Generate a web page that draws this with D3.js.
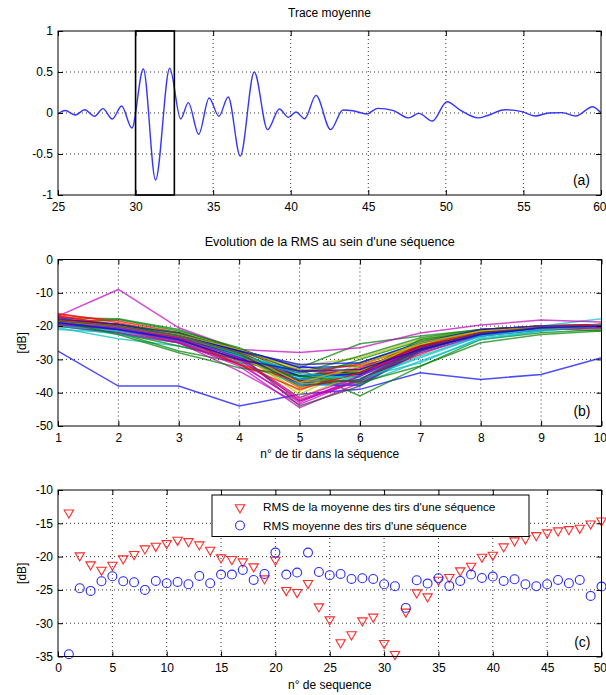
<!DOCTYPE html>
<html><head><meta charset="utf-8">
<script src="https://cdn.jsdelivr.net/npm/d3@7"></script>
<style>
body{margin:0;background:#fff;}
svg{display:block;font-family:"Liberation Sans",Arial,sans-serif;}
</style></head>
<body><div id="chart"></div>
<script>
// ---------- DATA ----------
// (a) mean trace: sample times (extrema) and amplitudes
const traceT = [25,25.47,26.12,26.72,27.35,27.9,28.5,29.1,29.76,30.5,31.29,32.2,32.91,33.4,34.07,34.74,35.37,35.97,36.75,37.65,38.51,39.27,39.85,40.34,40.9,41.63,42.57,43.37,44.0,44.9,45.6,46.63,47.6,48.26,49.13,50.07,50.98,52.07,52.7,53.8,54.9,55.76,56.63,57.5,58.37,59.46,60];
const traceV = [-0.01,0.03,-0.025,0.04,-0.04,0.053,-0.073,0.085,-0.183,0.537,-0.817,0.545,-0.073,0.126,-0.26,0.183,-0.04,0.195,-0.524,0.5,-0.203,0.049,-0.053,0.012,-0.07,0.215,-0.203,0.037,0.028,-0.012,0.057,0.028,-0.06,-0.004,-0.098,0.138,0.028,-0.06,-0.03,0.04,0.016,-0.037,0.0,0.004,-0.037,0.077,0.0];
const windowStart = 30, windowEnd = 32.5;
const traceXTicks = [25,30,35,40,45,50,55,60];
const traceYTicks = [-1,-0.5,0,0.5,1];

// (b) RMS per shot within each sequence (50 sequences x 10 shots)
const shots = [1,2,3,4,5,6,7,8,9,10];
const rmsSeq = [
 [-27.5,-38,-38,-44,-40.5,-39,-34,-36,-34.5,-29.5],
 [-17.5,-17.8,-21,-27,-32.5,-25.3,-23,-21,-20,-20.5],
 [-16.2,-19,-22.5,-28.5,-38.5,-34,-27,-22,-20.5,-20],
 [-20.5,-23.8,-26,-30,-35,-33,-25.5,-21.5,-20,-17.8],
 [-17,-9,-20.5,-27,-27.9,-26.5,-22.1,-19.7,-18.2,-18.8],
 [-19,-20.5,-23.5,-28,-40.5,-32,-25,-21.5,-20.5,-20],
 [-18.5,-20,-23,-29,-37,-37.5,-26,-22,-20.5,-20],
 [-18,-20.5,-22.5,-27.5,-32,-34.5,-25,-21.5,-20.5,-19.5],
 [-19.5,-22,-27.5,-31,-33,-41,-32.1,-24,-22,-21],
 [-18.5,-19.5,-23,-29,-42.5,-36,-28.5,-22,-20.5,-20],
 [-20,-22.5,-25,-29.5,-33,-35.5,-31,-23.5,-21.5,-20],
 [-19,-21.5,-25,-33.5,-43.5,-36,-27,-22.5,-21,-20.5],
 [-19,-20,-22,-27,-31.9,-29.5,-24,-21,-20,-20.5],
 [-19.5,-21,-24,-29,-37,-36.5,-27.5,-22,-20.5,-20],
 [-18,-19.5,-22.5,-27,-32.5,-32,-27.5,-22,-20.5,-20],
 [-20,-22,-26,-30,-36,-30,-24.5,-21.5,-20.5,-21.5],
 [-16.5,-18.5,-22,-27.5,-33.5,-34,-26,-21,-20,-19.5],
 [-19.5,-21.5,-24,-28.5,-35.5,-35,-27,-23,-21,-20],
 [-18.5,-20,-24,-31,-43,-35,-27.5,-22.5,-20.5,-20],
 [-19,-20,-23,-28,-38.5,-33,-25.5,-22,-20.5,-20.5],
 [-18.5,-19.5,-22.5,-27.5,-36.5,-35,-26.5,-22,-20.5,-20],
 [-17.5,-20,-22,-28,-37.5,-37.8,-27,-22.5,-20.5,-20],
 [-19,-18,-21.5,-26.5,-34,-29,-23.5,-21,-20,-19.5],
 [-17,-19.5,-23.5,-30.5,-35,-33,-27,-21.5,-20,-19.5],
 [-21,-22,-25,-31,-37.5,-37.5,-30.5,-24,-21.5,-20],
 [-19,-21,-24.5,-30,-42,-36,-27,-23,-21,-20.5],
 [-18.5,-20.5,-23.5,-29,-41.5,-34,-26,-22.5,-21,-20],
 [-19,-20,-23,-28,-35,-33.5,-26,-22,-20.5,-20],
 [-18.5,-20,-23,-29.5,-36,-34,-26,-22.5,-20.5,-20],
 [-18,-19.5,-22,-27,-35,-34,-24,-21.5,-20.5,-20],
 [-18,-21,-25,-31.5,-36.5,-32.5,-26.5,-22,-20.5,-19.5],
 [-19,-21,-24.5,-30,-36,-35,-28,-22.5,-20.5,-20],
 [-20,-22,-25,-32,-44.5,-37,-28,-23,-21,-20],
 [-18.5,-20,-23.5,-28.5,-39.5,-31,-25.5,-22,-20.5,-20],
 [-18.5,-20,-23.5,-28.5,-44,-38,-27.5,-22,-20.5,-20],
 [-19,-20.5,-24,-28.5,-35,-34.5,-27,-22,-20.5,-20],
 [-19.5,-21,-24,-29,-34,-31,-25,-21.5,-20.5,-20],
 [-17,-20,-24,-30,-34,-31.5,-26,-21.5,-20,-19.5],
 [-20,-21.5,-24,-29,-34.5,-36.5,-29,-23,-21,-19.5],
 [-19.5,-21,-24.5,-31.5,-42.5,-36.5,-27,-22,-20.5,-20.5],
 [-19,-20,-22.5,-27,-33,-33.5,-25,-21.5,-20,-20],
 [-19,-20.5,-23,-28.5,-36.5,-36.5,-27,-22.5,-20.5,-20],
 [-18,-19.5,-23,-27.5,-31.5,-31,-25,-21,-20,-20],
 [-18.5,-22.5,-28,-32.5,-35,-37,-32,-25,-22.5,-21.5],
 [-18,-20,-23.5,-31.5,-39,-34,-26.5,-22,-20.5,-20],
 [-19,-20.5,-23,-28.5,-34,-36,-29.5,-23,-21,-20],
 [-19,-20.5,-23.5,-29.5,-41.5,-35,-26.5,-22,-20.5,-20],
 [-18.5,-20,-23,-28,-37,-32,-25,-21.5,-20.5,-20],
 [-18.5,-20,-23,-28,-38,-36,-26.5,-22,-20.5,-20],
 [-19,-21,-24,-30,-33.5,-33,-27,-22.5,-20.5,-20]
];
const lineColors = ["#0000ff","#008000","#ff0000","#00bfbf","#bf00bf","#bfbf00","#404040"];
const rmsXTicks = [1,2,3,4,5,6,7,8,9,10];
const rmsYTicks = [-50,-40,-30,-20,-10,0];

// (c) per-sequence values
const seqIdx = d3.range(1,51);
const rmsOfMean = [-13.4,-19.85,-21.2,-22.0,-21.25,-20.3,-19.65,-18.8,-18.4,-18.0,-17.5,-17.7,-18.2,-19.0,-20.15,-20.4,-20.75,-21.5,-23.3,-20.5,-25.05,-25.35,-24.0,-27.5,-29.45,-32.9,-31.7,-29.6,-29.05,-33.0,-34.65,-28.3,-25.4,-26.0,-23.5,-23.1,-22.1,-21.4,-20.05,-19.75,-18.5,-17.6,-17.3,-16.8,-16.4,-16.1,-15.9,-15.7,-15.05,-14.6];
const meanOfRms = [-34.65,-24.75,-25.15,-23.7,-22.95,-23.7,-23.85,-25.0,-23.65,-24.0,-23.8,-24.15,-22.9,-24.0,-22.7,-22.7,-22.0,-23.5,-22.6,-19.4,-22.7,-22.4,-19.4,-22.3,-22.8,-22.6,-23.35,-23.25,-23.35,-24.15,-24.45,-27.7,-23.55,-24.05,-23.25,-24.4,-23.65,-22.7,-23.2,-23.0,-23.65,-23.4,-24.15,-24.45,-24.15,-23.5,-24.0,-23.5,-25.9,-24.5];
const seqXTicks = [0,5,10,15,20,25,30,35,40,45,50];
const seqYTicks = [-35,-30,-25,-20,-15,-10];
const legendLabels = ["RMS de la moyenne des tirs d'une séquence","RMS moyenne des tirs d'une séquence"];

// ---------- DRAWING ----------
const W = 606, H = 695;
const svg = d3.select("#chart").append("svg").attr("width",W).attr("height",H);
svg.append("rect").attr("width",W).attr("height",H).attr("fill","#fff");
const FS = 12;
const fmt = d => String(d);

function panel(cfg){
  const x = d3.scaleLinear().domain(cfg.xd).range([cfg.x0,cfg.x1]);
  const y = d3.scaleLinear().domain(cfg.yd).range([cfg.y1,cfg.y0]);
  const g = svg.append("g");
  // grid
  const gx = cfg.xt.filter(v => v>cfg.xd[0] && v<cfg.xd[1]);
  const gy = cfg.yt.filter(v => v>cfg.yd[0] && v<cfg.yd[1]);
  g.selectAll(".gx").data(gx).join("line")
    .attr("x1",d=>x(d)).attr("x2",d=>x(d)).attr("y1",cfg.y0).attr("y2",cfg.y1)
    .attr("stroke","#333").attr("stroke-width",1).attr("stroke-dasharray","1,3");
  g.selectAll(".gy").data(gy).join("line")
    .attr("y1",d=>y(d)).attr("y2",d=>y(d)).attr("x1",cfg.x0).attr("x2",cfg.x1)
    .attr("stroke","#333").attr("stroke-width",1).attr("stroke-dasharray","1,3");
  const content = g.append("g");
  // axes
  const ax = (axis, tx, ty, labels) => {
    const a = g.append("g").attr("transform",`translate(${tx},${ty})`)
      .call(axis.tickSizeInner(-5).tickSizeOuter(0).tickPadding(labels?7:0).tickFormat(labels?fmt:""));
    a.select(".domain").remove();
    a.selectAll("line").attr("stroke","#000");
    a.selectAll("text").attr("font-size",FS).attr("fill","#000").attr("font-family","Liberation Sans, Arial, sans-serif");
    return a;
  };
  const ba = ax(d3.axisBottom(x).tickValues(cfg.xt),0,cfg.y1,true);
  // keep the last x label inside the page (it sits on the right page edge)
  ba.selectAll("text").filter(d => d === cfg.xd[1]).attr("text-anchor","end").attr("dx",5);
  ax(d3.axisTop(x).tickValues(cfg.xt),0,cfg.y0,false);
  const la = ax(d3.axisLeft(y).tickValues(cfg.yt),cfg.x0,0,true);
  la.selectAll("text").attr("dx",2);
  ax(d3.axisRight(y).tickValues(cfg.yt),cfg.x1,0,false);
  g.append("rect").attr("x",cfg.x0).attr("y",cfg.y0).attr("width",cfg.x1-cfg.x0).attr("height",cfg.y1-cfg.y0)
    .attr("fill","none").attr("stroke","#000").attr("stroke-width",1);
  // title, labels
  const cx = (cfg.x0+cfg.x1)/2;
  if(cfg.title) g.append("text").attr("x",cx).attr("y",cfg.y0-14).attr("text-anchor","middle")
    .attr("font-size",cfg.titleSize||FS).text(cfg.title);
  if(cfg.xlabel) g.append("text").attr("x",cx).attr("y",cfg.y1+32).attr("text-anchor","middle")
    .attr("font-size",FS).text(cfg.xlabel);
  if(cfg.ylabel) g.append("text").attr("transform",`translate(26,${(cfg.y0+cfg.y1)/2}) rotate(-90)`)
    .attr("text-anchor","middle").attr("font-size",FS).text(cfg.ylabel);
  g.append("text").attr("x",cfg.x1-11).attr("y",cfg.y1-10).attr("text-anchor","end")
    .attr("font-size",14).text(cfg.tag);
  return {x,y,g,content};
}

// (a)
const pa = panel({x0:58,x1:601,y0:31,y1:195,xd:[25,60],yd:[-1,1],xt:traceXTicks,yt:traceYTicks,
  title:"Trace moyenne",tag:"(a)"});
pa.content.append("path")
  .datum(traceT.map((t,i)=>[t,traceV[i]]))
  .attr("d",d3.line().x(d=>pa.x(d[0])).y(d=>pa.y(d[1])).curve(d3.curveMonotoneX))
  .attr("fill","none").attr("stroke","#3535ff").attr("stroke-width",1.4);
pa.g.append("rect")
  .attr("x",pa.x(windowStart)).attr("y",pa.y(1))
  .attr("width",pa.x(windowEnd)-pa.x(windowStart)).attr("height",pa.y(-1)-pa.y(1))
  .attr("fill","none").attr("stroke","#000").attr("stroke-width",1.6);

// (b)
const pb = panel({x0:58,x1:601.5,y0:259.5,y1:426,xd:[1,10],yd:[-50,0],xt:rmsXTicks,yt:rmsYTicks,
  title:"Evolution de la RMS au sein d'une séquence",titleSize:12.6,xlabel:"n° de tir dans la séquence",ylabel:"[dB]",tag:"(b)"});
const lineB = d3.line().x((d,i)=>pb.x(shots[i])).y(d=>pb.y(d));
pb.content.selectAll("path.seq").data(rmsSeq).join("path")
  .attr("d",lineB).attr("fill","none")
  .attr("stroke",(d,i)=>lineColors[i%lineColors.length])
  .attr("stroke-width",1.5).attr("stroke-opacity",0.7);

// (c)
const pc = panel({x0:58,x1:601.5,y0:490,y1:656.5,xd:[0,50],yd:[-35,-10],xt:seqXTicks,yt:seqYTicks,
  xlabel:"n° de sequence",ylabel:"[dB]",tag:"(c)"});
const tri = d3.symbol().type(d3.symbolTriangle).size(38);
const circ = d3.symbol().type(d3.symbolCircle).size(62);
pc.content.selectAll("path.tri").data(rmsOfMean).join("path")
  .attr("transform",(d,i)=>`translate(${pc.x(seqIdx[i])},${pc.y(d)}) rotate(180)`)
  .attr("d",tri).attr("fill","none").attr("stroke","#ff2a2a").attr("stroke-width",1.1);
pc.content.selectAll("path.circ").data(meanOfRms).join("path")
  .attr("transform",(d,i)=>`translate(${pc.x(seqIdx[i])},${pc.y(d)})`)
  .attr("d",circ).attr("fill","none").attr("stroke","#2a2aff").attr("stroke-width",1.1);
// legend
const lg = pc.g.append("g");
lg.append("rect").attr("x",212).attr("y",495).attr("width",317).attr("height",41.5)
  .attr("fill","#fff").attr("stroke","#000").attr("stroke-width",1);
lg.append("path").attr("transform","translate(240,507.5) rotate(180)").attr("d",tri)
  .attr("fill","none").attr("stroke","#ff2a2a").attr("stroke-width",1.1);
lg.append("path").attr("transform","translate(240,525.5)").attr("d",circ)
  .attr("fill","none").attr("stroke","#2a2aff").attr("stroke-width",1.1);
lg.selectAll("text.lt").data(legendLabels).join("text")
  .attr("x",263).attr("y",(d,i)=>511+i*19).attr("font-size",11.7).text(d=>d);
</script>
</body></html>
